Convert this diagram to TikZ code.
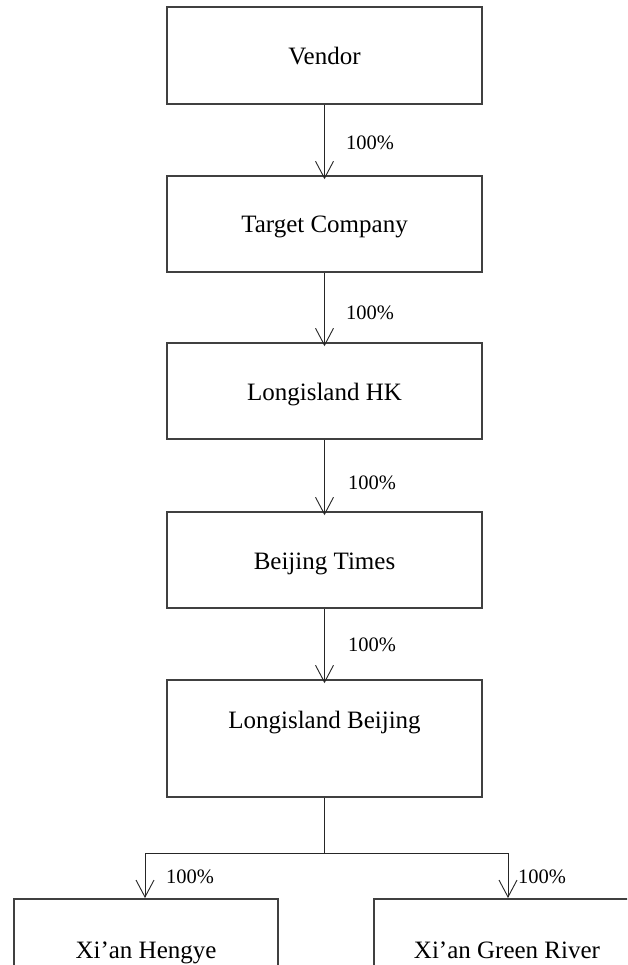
\documentclass[tikz,border=0pt]{standalone}
\usepackage{fontspec}
\setmainfont{Liberation Serif}
\usetikzlibrary{arrows.meta}
\begin{document}
\begin{tikzpicture}[x=1pt,y=-1pt,
  box/.style={draw=black!75, line width=1.6pt, rectangle, minimum width=315pt, inner sep=0pt, text height=18pt, text depth=0pt, font=\fontsize{25}{28}\selectfont},
  conn/.style={draw=black!85, line width=0.9pt},
  arr/.style={conn, -{Straight Barb[length=17pt,width=18pt,line width=0.9pt]}},
  pct/.style={font=\fontsize{20.5}{24}\selectfont, anchor=west, inner sep=0pt}]
\clip (0,0) rectangle (627,965);
\fill[white] (0,0) rectangle (627,965);
\node[box, minimum height=97pt] (v) at (324.5,55.5) {Vendor};
\node[box, minimum height=96pt] (t) at (324.5,224) {Target Company};
\node[box, minimum height=96pt] (h) at (324.5,391) {Longisland HK};
\node[box, minimum height=96pt] (b) at (324.5,560) {Beijing Times};
\node[box, minimum height=117pt, text depth=38pt] (lb) at (324.5,738.5) {Longisland Beijing};
\node[box, minimum width=264pt, minimum height=100pt] (xh) at (146,949) {Xi’an Hengye};
\node[box, minimum width=266pt, minimum height=100pt] (xg) at (507,949) {Xi’an Green River};
\draw[arr] (v.south) -- ([yshift=-4pt]t.north);
\draw[arr] (t.south) -- ([yshift=-4pt]h.north);
\draw[arr] (h.south) -- ([yshift=-4pt]b.north);
\draw[arr] (b.south) -- ([yshift=-4pt]lb.north);
\node[pct] (p1) at (346,143) {100\%};
\node[pct] (p2) at (346,313) {100\%};
\node[pct] (p3) at (348,483) {100\%};
\node[pct] (p4) at (348,645) {100\%};
\coordinate (j) at (324.5,853);
\coordinate (jl) at (145,853);
\coordinate (jr) at (508,853);
\draw[conn] (lb.south) -- (j);
\draw[conn] (jl) -- (jr);
\draw[arr] (jl) -- (145,898);
\draw[arr] (jr) -- (508,898);
\node[pct] (p5) at (166,877) {100\%};
\node[pct] (p6) at (518,877) {100\%};
\end{tikzpicture}
\end{document}
